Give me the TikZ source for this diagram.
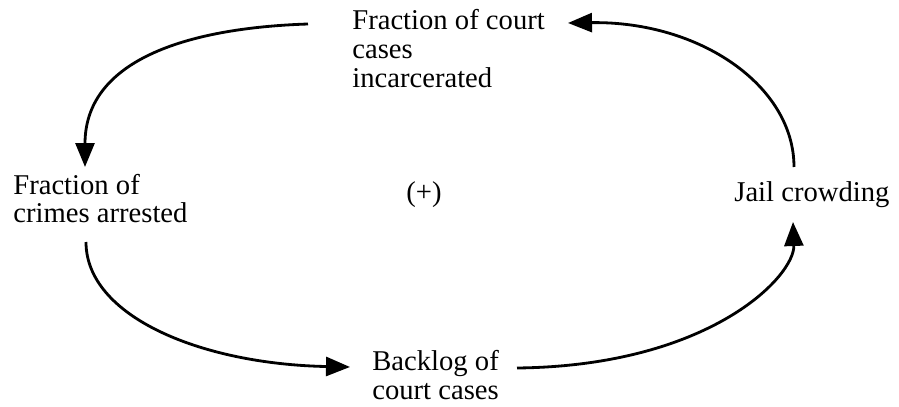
\documentclass[tikz,border=0pt]{standalone}
\usepackage{fontspec}
\setmainfont{Liberation Serif}
\usetikzlibrary{arrows.meta}

\begin{document}
\begin{tikzpicture}[
  x=0.02cm, y=0.02cm,
  lbl/.style={inner sep=0pt, align=left, font=\fontsize{16.3}{16.3}\selectfont},
  arr/.style={-{Triangle[length=0.48cm,width=0.38cm]}, line width=1.6pt}
]
  \useasboundingbox (0,0) rectangle (899,406);
  \node[lbl, anchor=north west] (court) at (352,396.6) {Fraction of court\\cases\\incarcerated};
  \node[lbl, anchor=north west] (crimes) at (13,232.5) {Fraction of\\crimes arrested};
  \node[lbl, anchor=north west] (backlog) at (372,55.6) {Backlog of\\court cases};
  \node[lbl, anchor=base west] (jail) at (734,204) {Jail crowding};
  \node[lbl, anchor=base west] (loop) at (406,204) {(+)};
  % loop arrows
  \draw[arr] ([shift={(-44,-14.6)}]court.north west) .. controls (185,378) and (85,345) .. ([shift={(72,6.5)}]crimes.north west);
  \draw[arr] ([shift={(73,-68.5)}]crimes.north west) .. controls (86,90) and (200,42) .. ([shift={(-22,-16.6)}]backlog.north west);
  \draw[arr] ([shift={(145,-17.6)}]backlog.north west) .. controls (710,40) and (795,130) .. ([shift={(59,-20)}]jail.base west);
  \draw[arr] ([shift={(60,35)}]jail.base west) .. controls (794,320) and (700,385) .. ([shift={(216,-13.6)}]court.north west);
\end{tikzpicture}
\end{document}
